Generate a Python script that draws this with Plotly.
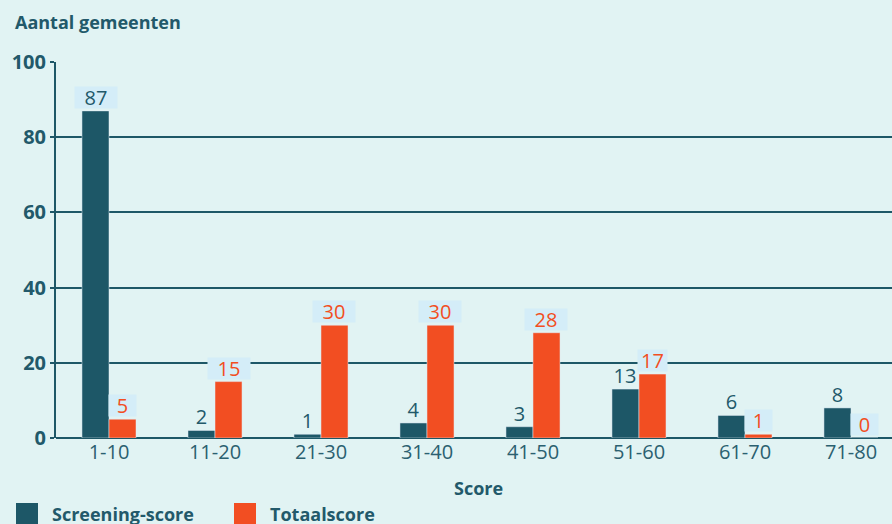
import plotly.graph_objects as go

categories = ["1-10", "11-20", "21-30", "31-40", "41-50", "51-60", "61-70", "71-80"]
screening = [87, 2, 1, 4, 3, 13, 6, 8]
totaal = [5, 15, 30, 30, 28, 17, 1, 0]
series_names = ["Screening-score", "Totaalscore"]
y_ticks = [0, 20, 40, 60, 80, 100]

DARK = "#1d5767"
ORANGE = "#f24e22"
BG = "#e1f3f3"
LABEL_BG = "#d4edf8"
TEXT = "#22596a"
FONT = "Open Sans"

W, H = 892, 524
L, T, B = 56, 62, 86


def px(xp):
    return (xp - L) / (W - L)


def py(yp):
    return (H - B - yp) / (H - T - B)


def box_w(v, other=None):
    if len(str(v)) == 1:
        return 27
    if other is not None and other >= 10 and abs(other - v) < 10:
        return 29
    return 42


fig = go.Figure()
x_idx = list(range(len(categories)))
fig.add_trace(go.Bar(x=x_idx, y=screening, name=series_names[0], marker_color=DARK,
                     showlegend=False))
fig.add_trace(go.Bar(x=x_idx, y=totaal, name=series_names[1], marker_color=ORANGE,
                     showlegend=False))

ann = []
for i, v in enumerate(screening):
    ann.append(dict(x=i, y=v, xref="x", yref="y", text=str(v), showarrow=False,
                    xshift=-13.5, yanchor="bottom", yshift=2,
                    width=box_w(v), height=21,
                    font=dict(family=FONT, size=20, color=TEXT),
                    bgcolor=LABEL_BG if v > 80 else "rgba(0,0,0,0)", borderpad=0))
for i, v in enumerate(totaal):
    ann.append(dict(x=i, y=v, xref="x", yref="y", text=str(v), showarrow=False,
                    xshift=13.5, yanchor="bottom", yshift=2,
                    width=box_w(v, screening[i]), height=21,
                    font=dict(family=FONT, size=20, color=ORANGE),
                    bgcolor=LABEL_BG, borderpad=0))

ann.append(dict(x=px(13), y=py(22), xref="paper", yref="paper", xanchor="left", yanchor="middle",
                text="<b>Aantal gemeenten</b>", showarrow=False,
                font=dict(family=FONT, size=18, color=TEXT)))
ann.append(dict(x=px(479), y=py(488), xref="paper", yref="paper", xanchor="center", yanchor="middle",
                text="<b>Score</b>", showarrow=False,
                font=dict(family=FONT, size=18, color=TEXT)))

shapes = []
legend_items = [(16, series_names[0], DARK), (234, series_names[1], ORANGE)]
for x0, name, col in legend_items:
    shapes.append(dict(type="rect", xref="paper", yref="paper",
                       x0=px(x0), x1=px(x0 + 22), y0=py(526), y1=py(503),
                       fillcolor=col, line=dict(width=0)))
    ann.append(dict(x=px(x0 + 34), y=py(514), xref="paper", yref="paper", xanchor="left",
                    yanchor="middle", text="<b>" + name + "</b>", showarrow=False,
                    font=dict(family=FONT, size=18, color=TEXT)))

fig.update_layout(
    width=W, height=H,
    margin=dict(l=L, r=0, t=T, b=B),
    paper_bgcolor=BG, plot_bgcolor=BG,
    barmode="group", bargap=0.49, bargroupgap=0,
    annotations=ann, shapes=shapes,
    font=dict(family=FONT, color=TEXT),
    xaxis=dict(tickmode="array", tickvals=x_idx, ticktext=categories,
               range=[-0.5, 7.387], showgrid=False, showline=False, zeroline=False,
               ticks="", tickfont=dict(family=FONT, size=20, color="#2b6070")),
    yaxis=dict(range=[0, 100], tickvals=y_ticks, showgrid=True, gridcolor=DARK, gridwidth=1.5,
               showline=True, linecolor=DARK, linewidth=2, zeroline=True, zerolinecolor=DARK,
               zerolinewidth=2, ticks="outside", ticklen=4, tickcolor=DARK, tickwidth=2,
               tickfont=dict(family=FONT, size=20, color=TEXT, weight="bold")),
)
fig.write_html("out.html", config={"displayModeBar": False},
               post_script="document.body.style.margin='0';document.body.style.overflow='hidden';")
